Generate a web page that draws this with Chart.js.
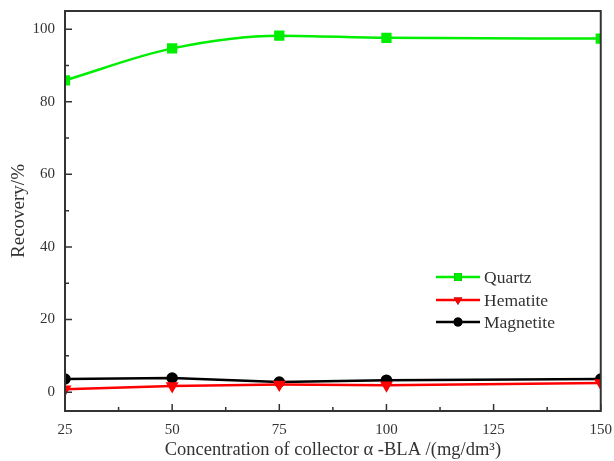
<!DOCTYPE html>
<html>
<head>
<meta charset="utf-8">
<script src="https://cdn.jsdelivr.net/npm/chart.js@4"></script>
<style>
  html, body { margin: 0; padding: 0; background: #fff; }
  #wrap { width: 614px; height: 461px; }
</style>
</head>
<body>
<div id="wrap"><canvas id="chart" width="614" height="461"></canvas></div>
<script>
// ---- data ----
const concentrations = [25, 50, 75, 100, 150];
const quartz    = [85.9, 94.7, 98.2, 97.6, 97.4];
const hematite  = [0.8, 1.7, 2.1, 1.9, 2.5];
const magnetite = [3.6, 3.9, 2.8, 3.3, 3.6];
const xTicks = [25, 50, 75, 100, 125, 150];
const yTicks = [0, 20, 40, 60, 80, 100];

const FONT = "'Liberation Serif', 'Times New Roman', serif";
const INK  = '#333';

const toXY = vals => vals.map((v, i) => ({ x: concentrations[i], y: v }));

// ticks inside the frame + minor ticks + box
const frameTicks = {
  id: 'frameTicks',
  afterDatasetsDraw(chart) {
    const { ctx, chartArea: a, scales: { x, y } } = chart;
    ctx.save();
    ctx.strokeStyle = INK;
    ctx.lineWidth = 1.5;
    ctx.beginPath();
    for (let v = 25; v <= 150; v += 12.5) {
      const px = x.getPixelForValue(v);
      const len = (v - 25) % 25 === 0 ? 7 : 4;
      ctx.moveTo(px, a.bottom);
      ctx.lineTo(px, a.bottom - len);
    }
    for (let v = 0; v <= 100; v += 10) {
      const py = y.getPixelForValue(v);
      const len = v % 20 === 0 ? 7 : 4;
      ctx.moveTo(a.left, py);
      ctx.lineTo(a.left + len, py);
    }
    ctx.stroke();
    ctx.lineWidth = 2;
    ctx.strokeRect(a.left, a.top, a.right - a.left, a.bottom - a.top);
    ctx.restore();
  }
};

// legend drawn inside the plot: line - marker - line, then the label
const insideLegend = {
  id: 'insideLegend',
  afterDraw(chart) {
    const { ctx } = chart;
    const x0 = 436, x1 = 480, tx = 484;
    const rows = [277, 300, 322];
    ctx.save();
    chart.data.datasets.forEach((ds, i) => {
      const yy = rows[i];
      ctx.strokeStyle = ds.borderColor;
      ctx.lineWidth = 2.5;
      ctx.beginPath();
      ctx.moveTo(x0, yy);
      ctx.lineTo(x1, yy);
      ctx.stroke();
      Chart.helpers.drawPoint(ctx, {
        pointStyle: ds.pointStyle,
        radius: ds.pointRadius,
        rotation: ds.pointRotation || 0,
        borderWidth: 0
      }, (x0 + x1) / 2, yy);
      ctx.fillStyle = ds.pointBackgroundColor;
      ctx.fill();
      ctx.fillStyle = INK;
      ctx.font = '17.5px ' + FONT;
      ctx.textBaseline = 'middle';
      ctx.textAlign = 'left';
      ctx.fillText(ds.label, tx, yy + 1);
    });
    ctx.restore();
  }
};

new Chart(document.getElementById('chart'), {
  type: 'line',
  data: {
    datasets: [
      {
        label: 'Quartz',
        data: toXY(quartz),
        borderColor: '#00ee00',
        pointBackgroundColor: '#00ee00',
        pointBorderColor: '#00ee00',
        borderWidth: 2.5,
        pointStyle: 'rect',
        pointRadius: 5.5,
        cubicInterpolationMode: 'monotone'
      },
      {
        label: 'Hematite',
        data: toXY(hematite),
        borderColor: '#ff0000',
        pointBackgroundColor: '#ff0000',
        pointBorderColor: '#ff0000',
        borderWidth: 2.5,
        pointStyle: 'triangle',
        pointRotation: 180,
        pointRadius: 5
      },
      {
        label: 'Magnetite',
        data: toXY(magnetite),
        borderColor: '#000000',
        pointBackgroundColor: '#000000',
        pointBorderColor: '#000000',
        borderWidth: 2.5,
        pointStyle: 'circle',
        pointRadius: 4.5
      }
    ]
  },
  options: {
    responsive: false,
    animation: false,
    layout: { padding: { top: 6, right: 0, bottom: 0, left: 4 } },
    plugins: {
      legend: { display: false },
      tooltip: { enabled: false }
    },
    scales: {
      x: {
        type: 'linear',
        min: 25,
        max: 150,
        afterBuildTicks: s => { s.ticks = xTicks.map(v => ({ value: v })); },
        afterFit: s => { s.height = 50; },
        grid: { display: false },
        border: { display: false },
        ticks: { color: INK, font: { family: FONT, size: 15 }, padding: 2, maxRotation: 0 },
        title: {
          display: true,
          text: 'Concentration of collector α -BLA /(mg/dm³)',
          color: INK,
          font: { family: FONT, size: 18.5 },
          padding: { top: 0, bottom: 0 }
        }
      },
      y: {
        min: -5.2,
        max: 105,
        afterBuildTicks: s => { s.ticks = yTicks.map(v => ({ value: v })); },
        afterFit: s => { s.width = 61; },
        grid: { display: false },
        border: { display: false },
        ticks: { color: INK, font: { family: FONT, size: 15 }, padding: 2 },
        title: {
          display: true,
          text: 'Recovery/%',
          color: INK,
          font: { family: FONT, size: 19 },
          padding: { top: 4, bottom: 0 }
        }
      }
    }
  },
  plugins: [frameTicks, insideLegend]
});
</script>
</body>
</html>
